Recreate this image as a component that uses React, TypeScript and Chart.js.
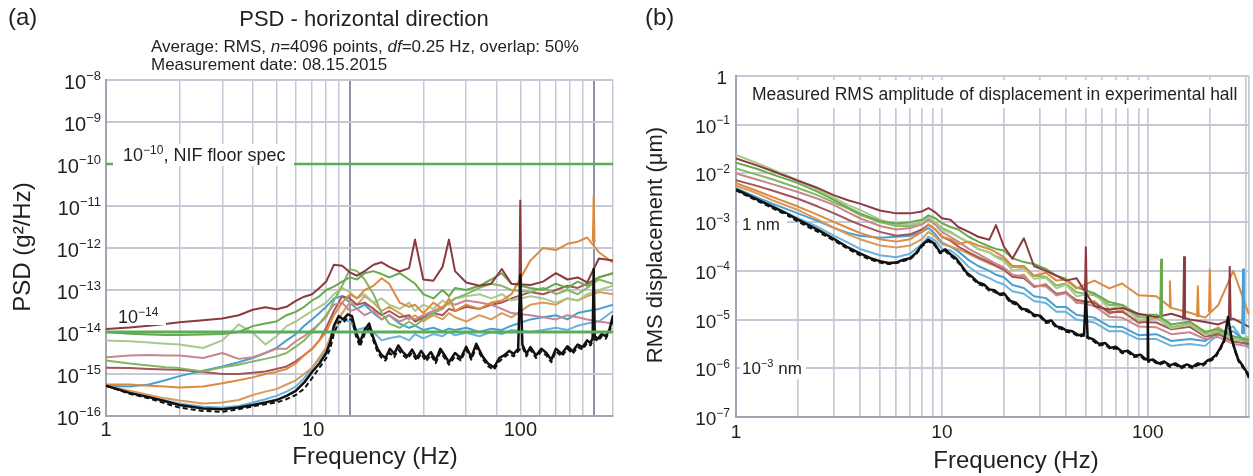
import { useEffect, useRef } from 'react';
import { Chart, registerables } from 'chart.js';

Chart.register(...registerables);

const FONT = '"Liberation Sans", Arial, Helvetica, sans-serif';
const INK = '#231f20';

// ================= Panel (a): PSD - horizontal direction =================
const psdXMin = 1;
const psdXMax = 120; // extent of the printed frequency grid
const psdXLabelMax = 280; // extent of the printed tick-label row
const psdXTickLabels = [1, 10, 100];
const psdYExponents = [-16, -15, -14, -13, -12, -11, -10, -9, -8];
const psdSpecLevels = [-10, -14]; // log10 PSD of the two reference lines

// frequency (Hz) of the coloured records
const psdFreq = [1, 1.25, 1.5, 1.75, 2, 2.5, 3, 3.5, 4, 4.5, 5, 5.5, 6, 6.5, 7, 7.5, 8, 8.6, 9.3, 10, 10.7, 11.5, 12.5, 13.5, 14.5, 16, 17.5, 18.5, 20, 22, 24, 25.5, 27, 30, 34, 38, 42, 46, 55, 62, 70, 78, 86, 94, 105, 120];
// log10 PSD (g²/Hz)
const psdMaroon = [-13.93, -13.89, -13.85, -13.81, -13.77, -13.72, -13.68, -13.6, -13.47, -13.41, -13.46, -13.4, -13.26, -13.16, -13.1, -12.95, -12.8, -12.4, -12.42, -12.58, -12.66, -12.55, -12.4, -12.34, -12.45, -12.56, -12.48, -11.8, -12.75, -12.78, -12.45, -11.8, -12.55, -12.82, -12.9, -12.85, -12.5, -12.85, -12.88, -12.8, -12.6, -12.75, -12.7, -12.82, -12.25, -12.3];
const psdOrangeHigh = [-15.25, -15.25, -15.28, -15.3, -15.32, -15.3, -15.22, -15.15, -15.08, -15.0, -14.95, -14.88, -14.75, -14.55, -14.4, -14.2, -14.0, -13.6, -13.3, -13.1, -13.2, -13.0, -12.9, -12.72, -12.85, -13.3, -13.4, -13.35, -13.55, -13.3, -13.45, -13.2, -13.5, -13.35, -13.45, -13.3, -13.25, -13.1, -12.3, -12.0, -12.05, -11.9, -11.85, -11.75, -12.1, -12.35];
const psdOrangeLow = [-15.28, -15.4, -15.5, -15.58, -15.63, -15.7, -15.68, -15.62, -15.5, -15.42, -15.36, -15.25, -15.15, -15.0, -14.85, -14.6, -14.37, -13.9, -13.55, -13.3, -13.35, -13.15, -13.3, -13.5, -13.4, -13.55, -13.7, -13.6, -13.75, -13.6, -13.7, -13.55, -13.65, -13.75, -13.6, -13.7, -13.55, -13.65, -13.35, -13.3, -13.35, -13.2, -13.25, -13.15, -13.05, -13.1];
const psdBlueMid = [-15.28, -15.3, -15.25, -15.15, -15.05, -14.92, -14.82, -14.72, -14.62, -14.5, -14.38, -14.2, -14.05, -13.85, -13.7, -13.55, -13.4, -13.2, -13.15, -13.3, -13.45, -13.35, -13.55, -13.7, -13.6, -13.8, -13.9, -13.85, -13.95, -13.9, -13.98, -13.92, -13.95, -13.9, -14.0, -13.92, -13.95, -13.85, -13.7, -13.65, -13.6, -13.7, -13.55, -13.5, -13.45, -13.35];
const psdBlueLow = [-15.28, -15.45, -15.55, -15.63, -15.7, -15.78, -15.8, -15.76, -15.68, -15.6, -15.52, -15.42, -15.3, -15.1, -14.85, -14.65, -14.4, -14.0, -13.7, -13.75, -13.95, -13.9, -14.0, -14.2, -14.15, -14.1, -14.2, -14.05, -14.15, -14.05, -14.1, -14.0, -14.08, -14.02, -14.1, -14.0, -14.05, -13.95, -14.0, -13.95, -13.9, -13.95, -13.85, -13.8, -13.75, -13.5];
const psdLightGreen = [-14.2, -14.22, -14.25, -14.28, -14.3, -14.38, -14.2, -13.82, -14.02, -14.3, -14.1, -13.86, -13.75, -13.62, -13.5, -13.4, -13.3, -13.1, -12.95, -13.05, -13.2, -13.1, -13.3, -13.2, -13.35, -13.45, -13.3, -13.5, -13.35, -13.45, -13.25, -13.35, -13.2, -13.15, -13.1, -13.2, -13.1, -13.25, -13.15, -13.2, -13.3, -13.2, -13.25, -13.1, -13.0, -12.9];
const psdGreen = [-14.0, -14.04, -14.06, -14.07, -14.07, -14.06, -14.05, -14.0, -13.86, -13.8, -13.75, -13.6, -13.52, -13.4, -13.25, -13.15, -13.0, -12.92, -12.8, -12.7, -12.75, -12.6, -12.55, -12.62, -12.7, -12.6, -12.75, -12.85, -13.1, -13.2, -13.0, -13.15, -12.95, -13.0, -12.9, -12.75, -12.6, -12.85, -12.95, -13.0, -12.85, -12.95, -12.8, -12.9, -12.7, -12.6];
const psdGreen2 = [-14.68, -14.75, -14.8, -14.84, -14.86, -14.94, -14.84, -14.78, -14.7, -14.64, -14.58, -14.5, -14.35, -14.2, -14.0, -13.8, -13.65, -13.25, -12.9, -12.5, -12.55, -12.75, -13.1, -13.55, -13.8, -13.9, -13.75, -13.85, -13.7, -13.55, -13.45, -13.3, -13.2, -13.1, -12.95, -12.85, -12.9, -13.0, -13.05, -12.95, -13.1, -13.0, -13.1, -12.95, -12.75, -12.85];
const psdMauve = [-14.6, -14.56, -14.55, -14.56, -14.56, -14.62, -14.5, -14.64, -14.6, -14.5, -14.4, -14.4, -14.22, -14.1, -13.95, -13.8, -13.6, -13.35, -13.3, -13.5, -13.45, -13.6, -13.5, -13.7, -13.6, -13.75, -13.65, -13.7, -13.6, -13.5, -13.4, -13.3, -13.35, -13.25, -13.3, -13.35, -13.45, -13.55, -13.6, -13.65, -13.7, -13.6, -13.65, -13.7, -13.75, -13.8];
const psdMaroon3 = [-14.85, -14.86, -14.88, -14.89, -14.9, -14.95, -15.0, -15.0, -14.97, -14.94, -14.88, -14.82, -14.7, -14.55, -14.4, -14.2, -13.9, -13.5, -13.15, -13.2, -13.35, -13.3, -13.45, -13.6, -13.5, -13.65, -13.6, -13.75, -13.65, -13.55, -13.6, -13.45, -13.5, -13.4, -13.45, -13.35, -13.3, -13.2, -13.05, -13.1, -13.0, -12.9, -12.95, -12.85, -12.7, -12.6];

// the quietest record (black), finer frequency sampling
const psdBlackFreq = [1, 1.25, 1.5, 1.75, 2, 2.5, 3, 3.5, 4, 4.5, 5, 5.5, 6, 6.5, 7, 7.5, 8, 8.3, 8.6, 9, 9.4, 9.8, 10.2, 10.6, 11, 11.5, 12, 12.5, 13, 13.5, 14, 14.6, 15.2, 15.8, 16.5, 17.2, 18, 18.8, 19.6, 20.5, 21.5, 22.5, 23.5, 24.5, 25.5, 27, 28.5, 30, 31.5, 33, 35, 37, 39, 41, 43, 45, 47, 49, 50, 51, 53, 55, 58, 61, 64, 67, 70, 74, 78, 82, 86, 90, 94, 97, 99, 100, 101, 104, 108, 112, 116, 120];
const psdBlack = [-15.28, -15.45, -15.55, -15.65, -15.74, -15.82, -15.84, -15.8, -15.74, -15.68, -15.62, -15.52, -15.4, -15.2, -14.95, -14.75, -14.5, -14.25, -13.85, -13.62, -13.7, -13.58, -13.62, -14.0, -14.25, -13.95, -13.8, -14.15, -14.4, -14.55, -14.62, -14.4, -14.52, -14.32, -14.48, -14.58, -14.42, -14.62, -14.45, -14.62, -14.48, -14.68, -14.4, -14.56, -14.72, -14.5, -14.62, -14.35, -14.6, -14.28, -14.58, -14.76, -14.84, -14.62, -14.55, -14.45, -14.52, -14.4, -12.65, -14.3, -14.52, -14.36, -14.56, -14.4, -14.5, -14.66, -14.4, -14.52, -14.34, -14.46, -14.3, -14.36, -14.2, -14.26, -14.15, -12.5, -14.1, -14.16, -14.04, -14.1, -13.95, -13.6];
const psdBlackDashed = [-15.28, -15.47, -15.58, -15.7, -15.8, -15.88, -15.9, -15.84, -15.77, -15.72, -15.68, -15.6, -15.5, -15.35, -15.1, -14.85, -14.62, -14.4, -14.05, -13.75, -13.78, -13.66, -13.72, -14.1, -14.35, -14.05, -13.9, -14.22, -14.48, -14.62, -14.68, -14.5, -14.6, -14.42, -14.55, -14.64, -14.5, -14.68, -14.52, -14.7, -14.55, -14.74, -14.48, -14.62, -14.78, -14.58, -14.68, -14.42, -14.66, -14.36, -14.64, -14.82, -14.9, -14.7, -14.6, -14.52, -14.58, -14.46, -14.4, -14.36, -14.58, -14.42, -14.62, -14.46, -14.56, -14.72, -14.46, -14.58, -14.4, -14.52, -14.36, -14.42, -14.26, -14.32, -14.22, -14.2, -14.16, -14.22, -14.1, -14.16, -14.0, -13.7];

// narrow line-frequency spikes (Hz, log10 peak, log10 foot)
const psdSpikeFreq = [50, 50, 100];
const psdSpikePeak = [-10.85, -11.9, -10.75];
const psdSpikeBase = [-12.85, -12.95, -11.85];
const psdSpikeSeries = ['maroon', 'green', 'orange'];

// ================= Panel (b): RMS displacement =================
const rmsXMin = 1;
const rmsXMax = 310;
const rmsXTickLabels = [1, 10, 100];
const rmsYExponents = [-7, -6, -5, -4, -3, -2, -1, 0];

const rmsFreq = [1, 1.25, 1.5, 2, 2.5, 3, 3.5, 4, 5, 6, 7, 8, 8.6, 9.3, 10, 11, 12, 13.5, 15, 17, 18.3, 20, 22, 25, 28, 32, 36, 40, 45, 55, 65, 75, 90, 110, 130, 160, 190, 220, 260, 310];
// log10 RMS displacement (µm)
const rmsMaroon = [-1.69, -1.83, -1.95, -2.15, -2.3, -2.45, -2.55, -2.62, -2.76, -2.82, -2.82, -2.78, -2.71, -2.8, -2.92, -2.95, -3.1, -3.2, -3.3, -3.36, -3.06, -3.5, -3.75, -3.33, -3.9, -4.0, -4.1, -4.2, -4.15, -4.72, -4.8, -4.76, -4.88, -4.95, -4.88, -5.0, -5.05, -5.1, -4.98, -5.15];
const rmsLightGreen = [-1.62, -1.78, -1.92, -2.14, -2.33, -2.5, -2.65, -2.75, -2.95, -3.05, -3.05, -3.0, -2.9, -3.0, -3.15, -3.22, -3.3, -3.42, -3.55, -3.62, -3.72, -3.8, -3.99, -3.95, -4.16, -4.14, -4.36, -4.28, -4.52, -4.46, -4.78, -4.7, -5.02, -4.94, -5.18, -5.1, -5.32, -5.2, -5.42, -5.35];
const rmsGreen = [-1.78, -1.9, -2.02, -2.2, -2.38, -2.55, -2.7, -2.82, -2.98, -3.03, -3.0, -2.95, -2.86, -2.92, -3.02, -3.1, -3.15, -3.3, -3.4, -3.5, -3.55, -3.58, -3.74, -3.82, -3.86, -3.96, -4.1, -4.16, -4.34, -4.46, -4.64, -4.7, -4.9, -4.9, -5.1, -5.04, -5.25, -5.2, -5.34, -5.42];
const rmsMauve = [-2.0, -2.12, -2.22, -2.38, -2.52, -2.65, -2.8, -2.92, -3.08, -3.15, -3.12, -3.05, -2.95, -3.05, -3.2, -3.3, -3.4, -3.55, -3.65, -3.78, -3.85, -3.93, -4.08, -4.12, -4.3, -4.32, -4.5, -4.46, -4.64, -4.72, -4.94, -4.96, -5.14, -5.16, -5.3, -5.26, -5.4, -5.36, -5.5, -5.55];
const rmsGreen2 = [-1.9, -2.02, -2.12, -2.3, -2.45, -2.6, -2.72, -2.85, -3.0, -3.08, -3.08, -3.0, -2.92, -3.0, -3.12, -3.2, -3.3, -3.42, -3.55, -3.62, -3.7, -3.76, -3.92, -3.92, -4.1, -4.12, -4.3, -4.26, -4.44, -4.5, -4.7, -4.7, -4.95, -4.95, -5.15, -5.1, -5.3, -5.26, -5.4, -5.45];
const rmsMaroon3 = [-2.14, -2.25, -2.35, -2.52, -2.68, -2.82, -2.95, -3.05, -3.2, -3.28, -3.25, -3.15, -3.05, -3.15, -3.3, -3.38, -3.5, -3.62, -3.72, -3.82, -3.9, -3.98, -4.12, -4.15, -4.32, -4.3, -4.47, -4.45, -4.6, -4.66, -4.85, -4.84, -5.05, -5.06, -5.2, -5.15, -5.35, -5.3, -5.45, -5.5];
const rmsOrange = [-2.2, -2.35, -2.48, -2.68, -2.85, -3.0, -3.12, -3.22, -3.35, -3.4, -3.35, -3.2, -3.05, -3.15, -3.3, -3.35, -3.45, -3.4, -3.48, -3.55, -3.62, -3.72, -3.9, -3.9, -4.1, -4.04, -4.2, -4.18, -4.36, -4.2, -4.36, -4.26, -4.5, -4.52, -4.76, -4.86, -4.96, -4.7, -4.0, -4.9];
const rmsOrange2 = [-2.25, -2.4, -2.55, -2.75, -2.95, -3.12, -3.25, -3.35, -3.48, -3.52, -3.48, -3.35, -3.2, -3.3, -3.45, -3.5, -3.55, -3.65, -3.75, -3.85, -3.9, -3.94, -4.12, -4.08, -4.33, -4.27, -4.5, -4.42, -4.66, -4.62, -4.88, -4.8, -5.08, -4.96, -5.18, -5.06, -5.28, -5.16, -5.38, -5.4];
const rmsBlue = [-2.3, -2.48, -2.62, -2.82, -2.98, -3.12, -3.22, -3.28, -3.32, -3.3, -3.28, -3.2, -3.12, -3.25, -3.42, -3.5, -3.6, -3.78, -3.9, -4.0, -4.08, -4.13, -4.29, -4.35, -4.52, -4.56, -4.74, -4.74, -4.9, -4.96, -5.14, -5.15, -5.32, -5.3, -5.44, -5.4, -5.44, -5.26, -5.24, -5.5];
const rmsBlue2 = [-2.32, -2.5, -2.66, -2.92, -3.1, -3.28, -3.42, -3.55, -3.68, -3.72, -3.65, -3.45, -3.3, -3.38, -3.55, -3.58, -3.7, -3.92, -4.05, -4.15, -4.22, -4.28, -4.42, -4.47, -4.62, -4.66, -4.84, -4.84, -5.0, -5.06, -5.24, -5.24, -5.4, -5.4, -5.54, -5.5, -5.54, -5.3, -5.14, -5.6];

const rmsBlackFreq = [1, 1.25, 1.5, 1.75, 2, 2.5, 3, 3.5, 4, 4.5, 5, 5.5, 6, 6.5, 7, 7.5, 8, 8.6, 9.2, 9.8, 10.4, 11, 11.7, 12.4, 13.2, 14, 15, 16, 17, 18, 19, 20, 21.5, 23, 24.5, 26, 28, 30, 32, 34, 36, 38, 40, 43, 46, 49, 50, 51, 54, 58, 62, 66, 70, 75, 80, 86, 92, 98, 99.5, 100, 100.5, 106, 113, 120, 128, 136, 145, 155, 165, 175, 185, 195, 205, 215, 225, 235, 245, 255, 265, 275, 290, 305, 310];
const rmsBlack = [-2.33, -2.52, -2.68, -2.82, -2.95, -3.16, -3.35, -3.52, -3.64, -3.74, -3.8, -3.84, -3.83, -3.77, -3.74, -3.63, -3.47, -3.36, -3.44, -3.62, -3.56, -3.66, -3.74, -3.88, -4.04, -4.12, -4.24, -4.28, -4.38, -4.4, -4.48, -4.46, -4.62, -4.66, -4.78, -4.8, -4.9, -4.92, -5.04, -5.02, -5.14, -5.16, -5.22, -5.24, -5.32, -5.3, -4.46, -5.36, -5.4, -5.5, -5.48, -5.58, -5.56, -5.66, -5.64, -5.74, -5.72, -5.82, -5.8, -4.95, -5.84, -5.82, -5.9, -5.86, -5.94, -5.9, -5.97, -5.92, -5.97, -5.9, -5.92, -5.84, -5.8, -5.72, -5.58, -5.42, -4.95, -5.38, -5.62, -5.82, -5.96, -6.1, -6.2];
const rmsBlackDashed = [-2.35, -2.55, -2.71, -2.85, -2.99, -3.2, -3.38, -3.55, -3.68, -3.77, -3.83, -3.86, -3.84, -3.8, -3.76, -3.66, -3.5, -3.39, -3.47, -3.64, -3.6, -3.69, -3.78, -3.9, -4.07, -4.15, -4.27, -4.31, -4.41, -4.43, -4.5, -4.49, -4.65, -4.69, -4.8, -4.83, -4.93, -4.95, -5.07, -5.05, -5.17, -5.19, -5.25, -5.27, -5.35, -5.33, -5.3, -5.38, -5.43, -5.53, -5.51, -5.61, -5.59, -5.69, -5.67, -5.77, -5.75, -5.85, -5.83, -5.82, -5.87, -5.85, -5.93, -5.89, -5.97, -5.93, -6.0, -5.95, -6.0, -5.93, -5.95, -5.87, -5.83, -5.75, -5.61, -5.45, -5.0, -5.41, -5.65, -5.85, -5.99, -6.13, -6.22];

const rmsSpikeFreq = [50, 116, 128, 150, 175, 200, 250, 290];
const rmsSpikePeak = [-3.5, -3.75, -4.2, -3.7, -4.3, -3.95, -3.9, -3.95];
const rmsSpikeBase = [-4.45, -4.95, -4.75, -5.0, -4.95, -4.85, -5.0, -5.3];
const rmsSpikeSeries = ['maroon', 'green', 'orange', 'maroon', 'orange', 'orange', 'maroon', 'blue'];

// ================= styling =================
const COLOR: Record<string, string> = {
  maroon: '#8c3a40',
  maroon3: '#a3555a',
  mauve: '#c8868d',
  orange: '#dc8b3e',
  orange2: '#d99a5c',
  green: '#69a94d',
  green2: '#86b564',
  lightGreen: '#a9c98c',
  blue: '#4a9fd0',
  blue2: '#6ab3da',
  black: '#111111',
  spec: '#5aad5a',
};
const GRID = '#c6c9d5';
const GRID_MAJOR = '#8f94a6';
const BORDER = '#a0a4b3';
const CLEAR = 'rgba(0,0,0,0)';

const mant = (v: number) => v / Math.pow(10, Math.floor(Math.log10(v) + 1e-9));
const isDecade = (v: number) => Math.abs(mant(v) - 1) < 1e-6;
const isHalf = (v: number) => Math.abs(mant(v) - 1.5) < 1e-6;

function lineDs(freqs: number[], logs: number[], color: string, width: number, dash: number[] = []) {
  const n = Math.min(freqs.length, logs.length);
  const data = [] as { x: number; y: number }[];
  for (let i = 0; i < n; i++) data.push({ x: freqs[i], y: Math.pow(10, logs[i]) });
  return {
    data,
    borderColor: color,
    borderWidth: width,
    borderDash: dash,
    pointRadius: 0,
    tension: 0,
    fill: false,
    borderJoinStyle: 'round',
    xAxisID: 'x',
    yAxisID: 'y',
  };
}

function spikeDs(f: number, peak: number, base: number, color: string, spread: number) {
  return {
    data: [
      { x: f / spread, y: Math.pow(10, base) },
      { x: f, y: Math.pow(10, peak) },
      { x: f * spread, y: Math.pow(10, base) },
    ],
    borderColor: color,
    borderWidth: 2,
    pointRadius: 0,
    tension: 0,
    fill: false,
    xAxisID: 'x',
    yAxisID: 'y',
  };
}

function drawPow(ctx: CanvasRenderingContext2D, x: number, y: number, base: string, exp: string, bs: number, es: number, raise: number, align: 'left' | 'right') {
  ctx.font = `${bs}px ${FONT}`;
  const wb = ctx.measureText(base).width;
  ctx.font = `${es}px ${FONT}`;
  const we = ctx.measureText(exp).width;
  const x0 = align === 'right' ? x - wb - we : x;
  ctx.textAlign = 'left';
  ctx.textBaseline = 'alphabetic';
  ctx.font = `${bs}px ${FONT}`;
  ctx.fillText(base, x0, y);
  ctx.font = `${es}px ${FONT}`;
  ctx.fillText(exp, x0 + wb, y - raise);
  return x0 + wb + we;
}

const labelFor = (list: number[]) => (v: any) => {
  const hit = list.find((t) => Math.abs(t - Number(v)) < 1e-6 * t);
  return hit !== undefined ? String(hit) : '';
};

// ---------- panel (a) plugin ----------
const psdDeco = {
  id: 'psdDeco',
  afterDatasetsDraw(chart: any) {
    const { ctx, chartArea: a, scales } = chart;
    const y = scales.y;
    ctx.save();
    const g10 = y.getPixelForValue(Math.pow(10, psdSpecLevels[0]));
    ctx.fillStyle = '#ffffff';
    ctx.fillRect(a.left + 7, g10 - 20, 181, 22);
    ctx.fillStyle = INK;
    const xe = drawPow(ctx, a.left + 17, g10 - 3, '10', '\u221210', 18, 12, 7, 'left');
    ctx.font = `18px ${FONT}`;
    ctx.fillText(', NIF floor spec', xe, g10 - 3);

    const g14 = y.getPixelForValue(Math.pow(10, psdSpecLevels[1]));
    ctx.fillStyle = '#ffffff';
    ctx.fillRect(a.left + 9, g14 - 25, 51, 18);
    ctx.fillStyle = INK;
    drawPow(ctx, a.left + 12, g14 - 9.5, '10', '\u221214', 18, 12, 7, 'left');
    ctx.restore();
  },
  afterDraw(chart: any) {
    const { ctx, chartArea: a, scales } = chart;
    const y = scales.y;
    ctx.save();
    ctx.fillStyle = INK;
    for (const e of psdYExponents) {
      const gy = y.getPixelForValue(Math.pow(10, e));
      drawPow(ctx, a.left - 5, gy + 8.5, '10', '\u2212' + Math.abs(e), 20, 13, 9, 'right');
    }
    ctx.save();
    ctx.translate(a.left - 83, a.top + 167);
    ctx.rotate(-Math.PI / 2);
    ctx.font = `24px ${FONT}`;
    ctx.textAlign = 'center';
    ctx.textBaseline = 'middle';
    ctx.fillText('PSD (g\u00B2/Hz)', 0, 0);
    ctx.restore();
    ctx.font = `24px ${FONT}`;
    ctx.textAlign = 'center';
    ctx.textBaseline = 'middle';
    ctx.fillText('Frequency (Hz)', a.left + 269, a.bottom + 41);
    ctx.restore();
  },
};

// ---------- panel (b) plugin ----------
const rmsDeco = {
  id: 'rmsDeco',
  afterDatasetsDraw(chart: any) {
    const { ctx, chartArea: a, scales } = chart;
    const y = scales.y;
    ctx.save();
    ctx.fillStyle = '#ffffff';
    ctx.fillRect(a.left + 9, a.top + 4, 500, 28);
    ctx.fillStyle = INK;
    ctx.font = `17.5px ${FONT}`;
    ctx.textAlign = 'left';
    ctx.textBaseline = 'alphabetic';
    ctx.fillText('Measured RMS amplitude of displacement in experimental hall', a.left + 16, a.top + 24);

    const g3 = y.getPixelForValue(1e-3);
    ctx.fillStyle = '#ffffff';
    ctx.fillRect(a.left + 2, g3 - 8, 49, 20);
    ctx.fillStyle = INK;
    ctx.font = `17px ${FONT}`;
    ctx.fillText('1 nm', a.left + 6, g3 + 8);

    const g6 = y.getPixelForValue(1e-6);
    ctx.fillStyle = '#ffffff';
    ctx.fillRect(a.left + 4, g6 - 8, 66, 19);
    ctx.fillStyle = INK;
    const xe = drawPow(ctx, a.left + 6, g6 + 6, '10', '\u22123', 17, 11, 7, 'left');
    ctx.font = `17px ${FONT}`;
    ctx.fillText(' nm', xe, g6 + 6);
    ctx.restore();
  },
  afterDraw(chart: any) {
    const { ctx, chartArea: a, scales } = chart;
    const y = scales.y;
    ctx.save();
    ctx.fillStyle = INK;
    for (const e of rmsYExponents) {
      const gy = y.getPixelForValue(Math.pow(10, e));
      if (e === 0) {
        ctx.font = `19px ${FONT}`;
        ctx.textAlign = 'right';
        ctx.textBaseline = 'alphabetic';
        ctx.fillText('1', a.left - 9, gy + 7.5);
      } else {
        drawPow(ctx, a.left - 6, gy + 8, '10', '\u2212' + Math.abs(e), 19, 12, 8.5, 'right');
      }
    }
    ctx.save();
    ctx.translate(a.left - 80, a.top + 169);
    ctx.rotate(-Math.PI / 2);
    ctx.font = `22px ${FONT}`;
    ctx.textAlign = 'center';
    ctx.textBaseline = 'middle';
    ctx.fillText('RMS displacement (\u03BCm)', 0, 0);
    ctx.restore();
    ctx.font = `24px ${FONT}`;
    ctx.textAlign = 'center';
    ctx.textBaseline = 'middle';
    ctx.fillText('Frequency (Hz)', a.left + 280, a.bottom + 44);
    ctx.restore();
  },
};

function psdConfig(): any {
  const spikes = psdSpikeFreq.map((f, i) =>
    spikeDs(f, psdSpikePeak[i], psdSpikeBase[i], COLOR[psdSpikeSeries[i]], 1.008)
  );
  const specs = psdSpecLevels.map((lv, i) => ({
    data: [
      { x: psdXMin, y: Math.pow(10, lv) },
      { x: psdXMax, y: Math.pow(10, lv) },
    ],
    borderColor: COLOR.spec,
    borderWidth: i === 0 ? 2.5 : 3,
    pointRadius: 0,
    fill: false,
    xAxisID: 'x',
    yAxisID: 'y',
  }));
  return {
    type: 'line',
    data: {
      datasets: [
        ...specs,
        lineDs(psdBlackFreq, psdBlack, COLOR.black, 2.5),
        lineDs(psdBlackFreq, psdBlackDashed, COLOR.black, 2, [5, 3]),
        ...spikes,
        lineDs(psdFreq, psdMaroon, COLOR.maroon, 2),
        lineDs(psdFreq, psdOrangeHigh, COLOR.orange, 2),
        lineDs(psdFreq, psdGreen, COLOR.green, 2),
        lineDs(psdFreq, psdGreen2, COLOR.green2, 2),
        lineDs(psdFreq, psdLightGreen, COLOR.lightGreen, 2),
        lineDs(psdFreq, psdMauve, COLOR.mauve, 2),
        lineDs(psdFreq, psdMaroon3, COLOR.maroon3, 2),
        lineDs(psdFreq, psdOrangeLow, COLOR.orange2, 2),
        lineDs(psdFreq, psdBlueMid, COLOR.blue, 2),
        lineDs(psdFreq, psdBlueLow, COLOR.blue2, 2),
      ],
    },
    options: {
      responsive: false,
      animation: false,
      devicePixelRatio: 1,
      events: [],
      layout: { padding: { left: 0, top: 80, right: 12, bottom: 0 } },
      plugins: { legend: { display: false }, tooltip: { enabled: false }, title: { display: false } },
      scales: {
        x: {
          type: 'logarithmic',
          axis: 'x',
          position: 'bottom',
          min: psdXMin,
          max: psdXMax,
          ticks: { display: false },
          grid: {
            drawTicks: false,
            color: (c: any) => {
              const v = c.tick ? c.tick.value : 1;
              if (isHalf(v)) return CLEAR;
              if (isDecade(v) && v > 5) return GRID_MAJOR;
              return GRID;
            },
            lineWidth: (c: any) => {
              const v = c.tick ? c.tick.value : 1;
              return isDecade(v) && v > 5 ? 2 : 1.5;
            },
          },
          border: { display: true, color: BORDER, width: 2 },
          afterFit: (s: any) => {
            s.height = 0;
          },
        },
        x2: {
          type: 'logarithmic',
          axis: 'x',
          position: 'bottom',
          min: psdXMin,
          max: psdXLabelMax,
          grid: { display: false, drawTicks: false },
          border: { display: false },
          ticks: {
            autoSkip: false,
            maxRotation: 0,
            padding: 2,
            color: INK,
            font: { size: 20, family: FONT },
            callback: labelFor(psdXTickLabels),
          },
          afterFit: (s: any) => {
            s.height = 60;
          },
        },
        y: {
          type: 'logarithmic',
          min: 1e-16,
          max: 1e-8,
          ticks: { display: false },
          grid: {
            drawTicks: false,
            color: (c: any) => (c.tick && isDecade(c.tick.value) ? GRID : CLEAR),
            lineWidth: 2,
          },
          border: { display: true, color: BORDER, width: 2 },
          afterFit: (s: any) => {
            s.width = 106;
          },
        },
      },
    },
    plugins: [psdDeco],
  };
}

function rmsConfig(): any {
  const spikes = rmsSpikeFreq.map((f, i) =>
    spikeDs(f, rmsSpikePeak[i], rmsSpikeBase[i], COLOR[rmsSpikeSeries[i]], 1.01)
  );
  return {
    type: 'line',
    data: {
      datasets: [
        lineDs(rmsBlackFreq, rmsBlack, COLOR.black, 2.5),
        lineDs(rmsBlackFreq, rmsBlackDashed, COLOR.black, 2, [5, 3]),
        ...spikes,
        lineDs(rmsFreq, rmsMaroon, COLOR.maroon, 2),
        lineDs(rmsFreq, rmsOrange, COLOR.orange, 2),
        lineDs(rmsFreq, rmsGreen, COLOR.green, 2),
        lineDs(rmsFreq, rmsLightGreen, COLOR.lightGreen, 2),
        lineDs(rmsFreq, rmsGreen2, COLOR.green2, 2),
        lineDs(rmsFreq, rmsMauve, COLOR.mauve, 2),
        lineDs(rmsFreq, rmsMaroon3, COLOR.maroon3, 2),
        lineDs(rmsFreq, rmsOrange2, COLOR.orange2, 2),
        lineDs(rmsFreq, rmsBlue, COLOR.blue, 2),
        lineDs(rmsFreq, rmsBlue2, COLOR.blue2, 2),
      ],
    },
    options: {
      responsive: false,
      animation: false,
      devicePixelRatio: 1,
      events: [],
      layout: { padding: { left: 0, top: 76, right: 0, bottom: 0 } },
      plugins: { legend: { display: false }, tooltip: { enabled: false }, title: { display: false } },
      scales: {
        x: {
          type: 'logarithmic',
          position: 'bottom',
          min: rmsXMin,
          max: rmsXMax,
          grid: {
            drawTicks: false,
            color: (c: any) => (c.tick && isHalf(c.tick.value) ? CLEAR : GRID),
            lineWidth: 1.7,
          },
          border: { display: true, color: BORDER, width: 2 },
          ticks: {
            autoSkip: false,
            maxRotation: 0,
            padding: 4,
            color: INK,
            font: { size: 19, family: FONT },
            callback: labelFor(rmsXTickLabels),
          },
          afterFit: (s: any) => {
            s.height = 59;
          },
        },
        y: {
          type: 'logarithmic',
          min: 1e-7,
          max: 1,
          ticks: { display: false },
          grid: {
            drawTicks: false,
            color: (c: any) => (c.tick && isDecade(c.tick.value) ? GRID : CLEAR),
            lineWidth: 2,
          },
          border: { display: true, color: BORDER, width: 2 },
          afterFit: (s: any) => {
            s.width = 111;
          },
        },
      },
    },
    plugins: [rmsDeco],
  };
}

export default function App() {
  const leftRef = useRef<HTMLCanvasElement>(null);
  const rightRef = useRef<HTMLCanvasElement>(null);

  useEffect(() => {
    const c1 = new Chart(leftRef.current as HTMLCanvasElement, psdConfig());
    const c2 = new Chart(rightRef.current as HTMLCanvasElement, rmsConfig());
    return () => {
      c1.destroy();
      c2.destroy();
    };
  }, []);

  return (
    <div
      style={{
        position: 'absolute',
        left: 0,
        top: 0,
        width: 1253,
        height: 476,
        background: '#ffffff',
        overflow: 'hidden',
        fontFamily: FONT,
        color: INK,
      }}
    >
      <canvas
        ref={leftRef}
        width={625}
        height={476}
        style={{ position: 'absolute', left: 0, top: 0, width: 625, height: 476, display: 'block' }}
      />
      <canvas
        ref={rightRef}
        width={628}
        height={476}
        style={{ position: 'absolute', left: 625, top: 0, width: 628, height: 476, display: 'block' }}
      />
      <div style={{ position: 'absolute', left: 8, top: 5, fontSize: 24, lineHeight: '24px' }}>(a)</div>
      <div
        style={{
          position: 'absolute',
          left: 164,
          width: 400,
          top: 8,
          textAlign: 'center',
          fontSize: 22,
          lineHeight: '22px',
          whiteSpace: 'nowrap',
        }}
      >
        PSD - horizontal direction
      </div>
      <div
        style={{
          position: 'absolute',
          left: 151,
          top: 38,
          fontSize: 17,
          lineHeight: '18px',
          whiteSpace: 'nowrap',
        }}
      >
        Average: RMS, <i>n</i>=4096 points, <i>df</i>=0.25 Hz, overlap: 50%
        <br />
        Measurement date: 08.15.2015
      </div>
      <div style={{ position: 'absolute', left: 645, top: 5, fontSize: 24, lineHeight: '24px' }}>(b)</div>
    </div>
  );
}
